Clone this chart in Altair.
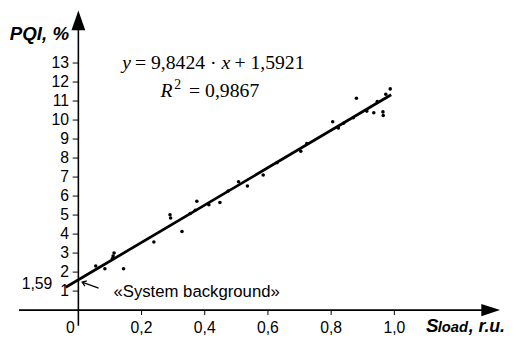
import altair as alt
import pandas as pd

# ---- data ----
x_vals = [0.055, 0.084, 0.108, 0.110, 0.113, 0.143, 0.239, 0.290, 0.292, 0.328,
          0.354, 0.370, 0.375, 0.413, 0.448, 0.474, 0.507, 0.535, 0.585, 0.629,
          0.704, 0.723, 0.805, 0.823, 0.839, 0.870, 0.880, 0.913, 0.935, 0.946,
          0.964, 0.965, 0.973, 0.987]
y_vals = [2.32, 2.18, 2.72, 2.85, 3.00, 2.18, 3.58, 5.02, 4.85, 4.14,
          5.08, 5.25, 5.73, 5.54, 5.66, 6.27, 6.75, 6.53, 7.11, 7.76,
          8.36, 8.77, 9.91, 9.58, 9.83, 10.12, 11.15, 10.47, 10.38, 10.98,
          10.43, 10.24, 11.36, 11.64]

fit_x = [-0.04, 0.99]
fit_y = [1.20, 11.33]

y_ticks = list(range(1, 14))
y_tick_labels = [str(v) for v in y_ticks]
x_ticks = [0.2, 0.4, 0.6, 0.8, 1.0]
x_tick_labels = ["0,2", "0,4", "0,6", "0,8", "1,0"]

eq_pieces = ["y", "= 9,8424 ·", "x", "+ 1,5921"]
eq_italic = [True, False, True, False]
r2_pieces = ["R", "2", "= 0,9867"]
r2_italic = [True, False, False]
bg_text = "«System background»"
intercept_label = "1,59"
y_title = "PQI, %"
x_title_pieces = ["S", "load", ", r.u."]

# ---- scales ----
X_DOM = [-0.2227, 1.3598]
Y_DOM = [-1.331, 15.759]
xs = alt.Scale(domain=X_DOM, nice=False, zero=False)
ys = alt.Scale(domain=Y_DOM, nice=False, zero=False)


def X(f="x"):
    return alt.X(f"{f}:Q", scale=xs, axis=None)


def Y(f="y"):
    return alt.Y(f"{f}:Q", scale=ys, axis=None)


SANS = "Liberation Sans"
SERIF = "Liberation Serif"

pts = pd.DataFrame({"x": x_vals, "y": y_vals})
fit = pd.DataFrame({"x": fit_x, "y": fit_y})

points = alt.Chart(pts).mark_circle(size=13, color="black", opacity=1).encode(x=X(), y=Y())
fitline = alt.Chart(fit).mark_line(color="black", strokeWidth=2.8).encode(x=X(), y=Y())

# axis lines
axes_df = pd.DataFrame({"x": [0.0, -0.188], "y": [-0.82, 0.0],
                        "x2": [0.0, 1.296], "y2": [15.1, 0.0]})
axis_lines = alt.Chart(axes_df).mark_rule(color="black", strokeWidth=1.6).encode(
    x=X(), y=Y(), x2="x2:Q", y2="y2:Q")

# arrow heads
yarrow = alt.Chart(pd.DataFrame({"x": [0.0], "y": [15.24]})).mark_point(
    shape="M0,-1L0.7,1L-0.7,1Z", size=400, filled=True, color="black", opacity=1,
    strokeWidth=0).encode(x=X(), y=Y())
xarrow = alt.Chart(pd.DataFrame({"x": [1.305], "y": [0.0]})).mark_point(
    shape="M1,0L-1,-0.65L-1,0.65Z", size=361, filled=True, color="black", opacity=1,
    strokeWidth=0).encode(x=X(), y=Y())

# ticks
ytick_df = pd.DataFrame({"y": y_ticks, "x": [-0.018] * len(y_ticks), "x2": [0.0] * len(y_ticks)})
ytick_marks = alt.Chart(ytick_df).mark_rule(color="black", strokeWidth=1).encode(
    x=X(), x2="x2:Q", y=Y())
xtick_df = pd.DataFrame({"x": x_ticks, "y": [0.0] * len(x_ticks), "y2": [-0.26] * len(x_ticks)})
xtick_marks = alt.Chart(xtick_df).mark_rule(color="black", strokeWidth=1).encode(
    x=X(), y=Y(), y2="y2:Q")

# tick labels
ylab_df = pd.DataFrame({"y": y_ticks, "t": y_tick_labels, "x": [-0.0296] * len(y_ticks)})
ylabels = alt.Chart(ylab_df).mark_text(
    font=SANS, fontSize=16, align="right", baseline="middle", color="black").encode(
    x=X(), y=Y(), text="t:N")
xlab_df = pd.DataFrame({"x": x_ticks + [-0.025], "t": x_tick_labels + ["0"],
                        "y": [-1.21] * (len(x_ticks) + 1)})
xlabels = alt.Chart(xlab_df).mark_text(
    font=SANS, fontSize=16, align="center", baseline="alphabetic", color="black").encode(
    x=X(), y=Y(), text="t:N")

# intercept label
ilab = alt.Chart(pd.DataFrame({"x": [-0.0826], "y": [1.10], "t": [intercept_label]})).mark_text(
    font=SANS, fontSize=16, align="right", baseline="alphabetic", color="black").encode(
    x=X(), y=Y(), text="t:N")

# titles
ytitle = alt.Chart(pd.DataFrame({"x": [-0.0296], "y": [14.22], "t": [y_title]})).mark_text(
    font=SANS, fontSize=19, fontWeight="bold", fontStyle="italic", align="right",
    baseline="alphabetic", color="black").encode(x=X(), y=Y(), text="t:N")

xt_x = [1.1003, 1.1371, 1.2352]
xt_sizes = [19, 15, 18]
xtitle_layers = [
    alt.Chart(pd.DataFrame({"x": [xt_x[i]], "y": [-1.176], "t": [x_title_pieces[i]]})).mark_text(
        font=SANS, fontSize=xt_sizes[i], fontWeight="bold", fontStyle="italic", align="left",
        baseline="alphabetic", color="black").encode(x=X(), y=Y(), text="t:N")
    for i in range(3)
]

# equation
eq_x = [0.1386, 0.1791, 0.4533, 0.4938]
eq_layers = [
    alt.Chart(pd.DataFrame({"x": [eq_x[i]], "y": [12.70], "t": [eq_pieces[i]]})).mark_text(
        font=SERIF, fontSize=20, fontStyle="italic" if eq_italic[i] else "normal",
        align="left", baseline="alphabetic", color="black").encode(x=X(), y=Y(), text="t:N")
    for i in range(4)
]
r2_x = [0.2601, 0.3037, 0.3505]
r2_y = [11.20, 11.64, 11.20]
r2_sizes = [20, 14, 20]
r2_layers = [
    alt.Chart(pd.DataFrame({"x": [r2_x[i]], "y": [r2_y[i]], "t": [r2_pieces[i]]})).mark_text(
        font=SERIF, fontSize=r2_sizes[i], fontStyle="italic" if r2_italic[i] else "normal",
        align="left", baseline="alphabetic", color="black").encode(x=X(), y=Y(), text="t:N")
    for i in range(3)
]

# system background annotation
bg = alt.Chart(pd.DataFrame({"x": [0.111], "y": [0.69], "t": [bg_text]})).mark_text(
    font=SANS, fontSize=17, align="left", baseline="alphabetic", color="black").encode(
    x=X(), y=Y(), text="t:N")
arr_line = alt.Chart(pd.DataFrame({"x": [0.064], "y": [1.155], "x2": [0.014], "y2": [1.46]})).mark_rule(
    color="black", strokeWidth=1.3).encode(x=X(), y=Y(), x2="x2:Q", y2="y2:Q")
arr_head = alt.Chart(pd.DataFrame({"x": [0.012], "y": [1.47]})).mark_point(
    shape="M-1,-0.7L0,0L-1,0.7", size=64, filled=False, color="black", opacity=1,
    strokeWidth=1.3, angle=200).encode(x=X(), y=Y())

chart = alt.layer(
    axis_lines, ytick_marks, xtick_marks, yarrow, xarrow,
    fitline, points, ylabels, xlabels, ilab, ytitle, *xtitle_layers,
    *eq_layers, *r2_layers, bg, arr_line, arr_head
).properties(
    width=508, height=330, padding=0, autosize=alt.AutoSizeParams(type="none"),
    background="white"
).configure_view(stroke=None)

chart.save("out.html", embed_options={"renderer": "svg", "actions": False})
